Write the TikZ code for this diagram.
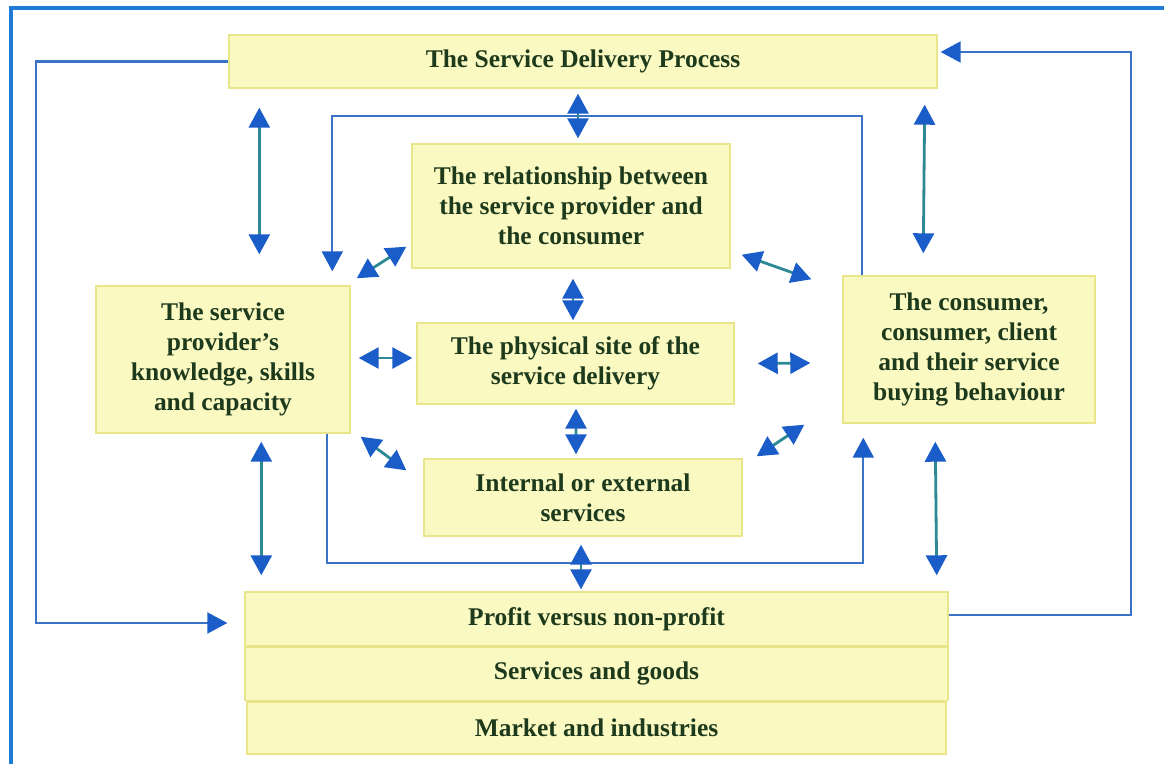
\documentclass[tikz,border=0pt]{standalone}
\usepackage{fontspec}
\setmainfont{Liberation Serif}
\usepackage{xcolor}
\usepackage{tikz}
\usetikzlibrary{arrows.meta, positioning}

\definecolor{boxfill}{HTML}{FBF9C2}
\definecolor{boxline}{HTML}{E9E58A}
\definecolor{txtgreen}{HTML}{1E3A1C}
\definecolor{headblue}{HTML}{1A5CC8}
\definecolor{shaft}{HTML}{2D8A94}
\definecolor{lineblue}{HTML}{3A72C8}
\definecolor{frameblue}{HTML}{1E7BD6}

\newcommand{\pix}{0.02cm}

\begin{document}
\begin{tikzpicture}[x=0.02cm, y=-0.02cm]
		% Define styles for the blocks and arrows
		\tikzstyle{block} = [rectangle, draw=boxline, fill=boxfill, line width=0.8pt, text=txtgreen, align=center, inner sep=0pt, font=\fontsize{14.5}{17}\selectfont\bfseries]
		\tikzstyle{twoway} = [draw=shaft, line width=1.6pt, {Triangle[length=0.4cm, width=0.42cm, color=headblue]}-{Triangle[length=0.4cm, width=0.42cm, color=headblue]}]
		\tikzstyle{feed} = [draw=lineblue, line width=1.2pt]
		\tikzstyle{feedarrow} = [feed, -{Triangle[length=0.4cm, width=0.42cm, color=headblue]}]

		\useasboundingbox (0,0) rectangle (1164,764);
		% outer frame
		\draw[frameblue, line width=2.2pt] (11,764) -- (11,8) -- (1164,8);

		% Define the nodes (blocks)
		\node (sdp) [block, minimum width=708*\pix, minimum height=53*\pix] at (583,61.5) {The Service Delivery Process};
		\node (relation) [block, minimum width=318*\pix, minimum height=124*\pix] at (571,206) {The relationship between\\the service provider and\\the consumer};
		\node (provider) [block, minimum width=254*\pix, minimum height=147*\pix] at (223,359.5) {The service\\provider’s\\knowledge, skills\\and capacity};
		\node (site) [block, minimum width=317*\pix, minimum height=81*\pix] at (575.5,363.5) {The physical site of the\\service delivery};
		\node (internal) [block, minimum width=318*\pix, minimum height=77*\pix] at (583,497.5) {Internal or external\\services};
		\node (consumer) [block, minimum width=252*\pix, minimum height=147*\pix] at (969,349.5) {The consumer,\\consumer, client\\and their service\\buying behaviour};
		\node (profit) [block, minimum width=703*\pix, minimum height=54*\pix] at (596.5,619) {Profit versus non-profit};
		\node (goods) [block, minimum width=703*\pix, minimum height=53*\pix, below=0pt of profit] {Services and goods};
		\node (market) [block, minimum width=699*\pix, minimum height=52*\pix, below=0pt of goods] {Market and industries};

		% Outer feedback lines
		\draw [feedarrow] (sdp.west) -- ++(-192,0) |- ([shift={(-17,4)}]profit.west);
		\draw [feedarrow] ([shift={(0,-4)}]profit.east) -- ++(182,0) |- ([shift={(3,-9.5)}]sdp.east);

		% Inner loop lines
		\draw [feedarrow] ([shift={(20,0)}]consumer.north west) -- ++(0,-159) -| ([shift={(237,-14)}]provider.north west);
		\draw [feedarrow] ([shift={(232,0)}]provider.south west) -- ++(0,129) -| ([shift={(21,14)}]consumer.south west);

		% Draw double arrows between the blocks
		\draw [twoway] ([shift={(31,19)}]sdp.south west) -- ([shift={(164,-31)}]provider.north west);
		\draw [twoway] ([shift={(-13,16)}]sdp.south east) -- ([shift={(81,-22)}]consumer.north west);
		\draw [twoway] ([shift={(166,8)}]provider.south west) -- ([shift={(17,-16)}]profit.north west);
		\draw [twoway] ([shift={(93,18)}]consumer.south west) -- ([shift={(-12,-16)}]profit.north east);
		\draw [twoway] ([shift={(-5,5)}]sdp.south) -- ([shift={(7,-5)}]relation.north);
		\draw [twoway] ([shift={(2,10)}]relation.south) -- ([shift={(-2.5,-2)}]site.north);
		\draw [twoway] ([shift={(0.5,4)}]site.south) -- ([shift={(-7,-4)}]internal.north);
		\draw [twoway] ([shift={(-2,8)}]internal.south) -- ([shift={(-15.5,-2)}]profit.north);
		\draw [twoway] ([shift={(6,-7)}]provider.north east) -- ([shift={(-5,-22)}]relation.south west);
		\draw [twoway] ([shift={(11,-14)}]relation.south east) -- ([shift={(-31,4)}]consumer.north west);
		\draw [twoway] ([shift={(8,-1.5)}]provider.east) -- ([shift={(-4,-5.5)}]site.west);
		\draw [twoway] ([shift={(23,0)}]site.east) -- ([shift={(-32,13.5)}]consumer.west);
		\draw [twoway] ([shift={(10,3)}]provider.south east) -- ([shift={(-17,12)}]internal.north west);
		\draw [twoway] ([shift={(14,-2)}]internal.north east) -- ([shift={(-38,1)}]consumer.south west);
	\end{tikzpicture}
\end{document}
